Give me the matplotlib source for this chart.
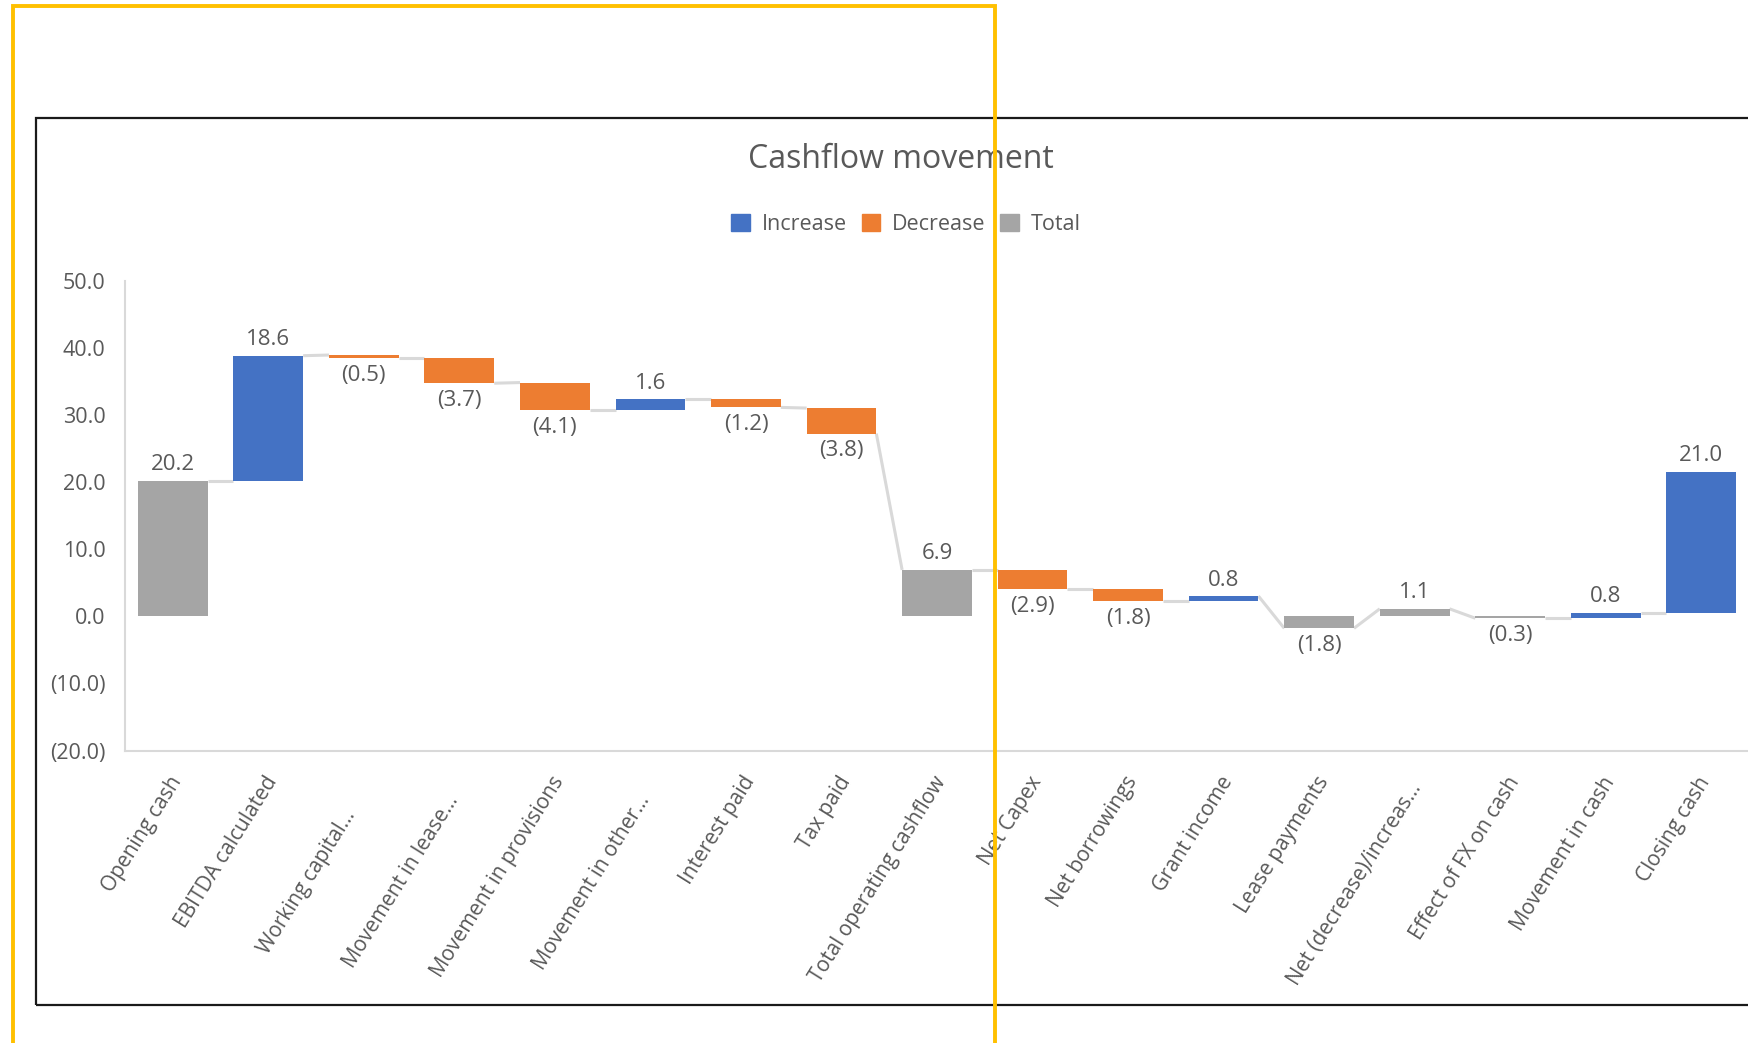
import matplotlib
matplotlib.use("Agg")
import matplotlib.pyplot as plt
from matplotlib.patches import Rectangle, Patch
from matplotlib.transforms import offset_copy

plt.rcParams['font.family'] = ['Open Sans', 'DejaVu Sans']

categories = ["Opening cash", "EBITDA calculated", "Working capital...", "Movement in lease...",
              "Movement in provisions", "Movement in other...", "Interest paid", "Tax paid",
              "Total operating cashflow", "Net Capex", "Net borrowings", "Grant income",
              "Lease payments", "Net (decrease)/increas...", "Effect of FX on cash",
              "Movement in cash", "Closing cash"]
values = [20.2, 18.6, -0.5, -3.7, -4.1, 1.6, -1.2, -3.8, 6.9, -2.9, -1.8, 0.8, -1.8, 1.1, -0.3, 0.8, 21.0]
starts = [0, 20.2, 38.9, 38.4, 34.8, 30.7, 32.3, 31.0, 0, 6.9, 4.0, 2.2, 0, 0, 0, -0.3, 0.5]
kinds = ["total", "inc", "dec", "dec", "dec", "inc", "dec", "dec", "total",
         "dec", "dec", "inc", "total", "total", "total", "inc", "inc"]

colors = {"inc": "#4472C4", "dec": "#ED7D31", "total": "#A5A5A5"}
txt = "#595959"
W, H = 1749, 1043

fig = plt.figure(figsize=(W / 100, H / 100), dpi=100)
ax = fig.add_axes([125 / W, 1 - 750.5 / H, 1 - 125 / W, (750.5 - 280.5) / H])

width = 0.73
x = list(range(len(categories)))
ax.bar(x, values, bottom=starts, width=width, color=[colors[k] for k in kinds], zorder=3)

# connector lines between bars
for i in range(len(x) - 1):
    y0 = starts[i] + values[i]
    y1 = starts[i + 1] + values[i + 1] if kinds[i + 1] == "total" else starts[i + 1]
    ax.plot([i + width / 2, i + 1 - width / 2], [y0, y1], color="#D9D9D9", lw=2.2,
            zorder=2, solid_capstyle="butt")

# data labels
for i, v in enumerate(values):
    lab = f"{v:.1f}" if v >= 0 else f"({abs(v):.1f})"
    if v >= 0:
        ax.annotate(lab, (i, starts[i] + v), xytext=(0, 11.5), textcoords="offset points",
                    ha="center", va="center", fontsize=16, color=txt)
    else:
        ax.annotate(lab, (i, starts[i] + v), xytext=(0, -12.5), textcoords="offset points",
                    ha="center", va="center", fontsize=16, color=txt)

ax.set_xlim(-0.5, 16.5)
ax.set_ylim(-20, 50)
ax.set_yticks(range(-20, 51, 10))
ax.set_yticklabels([f"{t:.1f}" if t >= 0 else f"({abs(t):.1f})" for t in range(-20, 51, 10)])
ax.set_xticks(x)
ax.set_xticklabels(categories, rotation=58, ha="right", rotation_mode="anchor")
ax.tick_params(axis="both", length=0, labelsize=15, labelcolor=txt)
ax.tick_params(axis="y", labelsize=15.5, pad=14)
ax.tick_params(axis="x", pad=16)
for s in ["top", "right"]:
    ax.spines[s].set_visible(False)
for s in ["left", "bottom"]:
    ax.spines[s].set_color("#D9D9D9")
    ax.spines[s].set_linewidth(1.5)

# truncated labels sit a little lower in the original
shifts = {"Working capital...": (-18, 33), "Movement in lease...": (-10, 19),
          "Movement in other...": (-10, 18), "Net (decrease)/increas...": (-2, 6)}
for lab in ax.get_xticklabels():
    dx, dy = shifts.get(lab.get_text(), (0, 0))
    lab.set_transform(offset_copy(lab.get_transform(), fig, x=dx - 4, y=-dy, units="dots"))

fig.text(901 / W, 1 - 159.5 / H, "Cashflow movement", ha="center", va="center",
         fontsize=23, color=txt)

handles = [Patch(color=colors["inc"], label="Increase"),
           Patch(color=colors["dec"], label="Decrease"),
           Patch(color=colors["total"], label="Total")]
fig.legend(handles=handles, loc="center", bbox_to_anchor=(906 / W, 1 - 224.5 / H), ncol=3,
           frameon=False, fontsize=15.5, labelcolor=txt, handlelength=0.85, handleheight=0.85,
           handletextpad=0.55, columnspacing=0.7)

# chart border and yellow highlight box from the screenshot
fig.add_artist(Rectangle((36 / W, 1 - 1005 / H), 1.2, (1005 - 118) / H, transform=fig.transFigure,
                         fill=False, edgecolor="#1A1A1A", lw=1.6, zorder=9))
fig.add_artist(Rectangle((13.5 / W, -0.1), (995 - 13.5) / W, 1 - 6 / H + 0.1, transform=fig.transFigure,
                         fill=False, edgecolor="#FFC000", lw=2.8, zorder=10))

fig.savefig("out.png", dpi=100)
